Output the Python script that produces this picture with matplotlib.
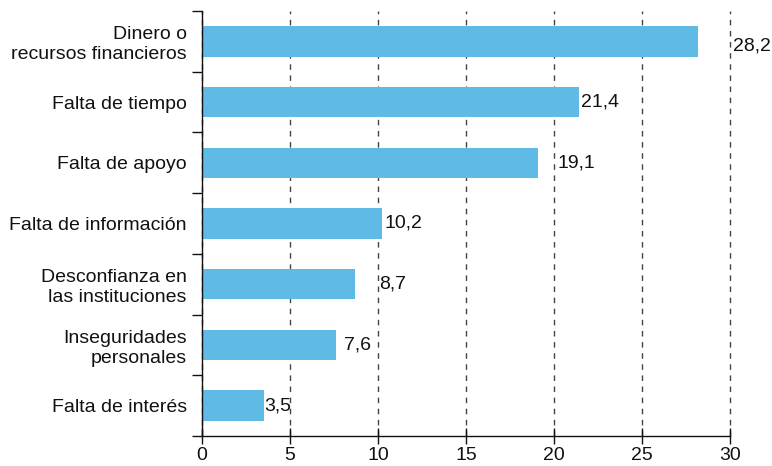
import matplotlib
matplotlib.use("Agg")
import matplotlib.pyplot as plt

plt.rcParams['font.family'] = ['Liberation Sans', 'DejaVu Sans']

categories = ["Dinero o\nrecursos financieros", "Falta de tiempo", "Falta de apoyo",
              "Falta de información", "Desconfianza en\nlas instituciones",
              "Inseguridades\npersonales", "Falta de interés"]
values = [28.2, 21.4, 19.1, 10.2, 8.7, 7.6, 3.5]
# label nudges (points) to the right of each bar end, as in the original
label_nudge = [25, 2, 14, 2, 17, 6, 0.5]
label_drop = [-3, 0, 0, 0, 0, 0, 0]

bar_color = "#5FBAE6"
fs = 14

fig = plt.figure(figsize=(7.72, 4.66), dpi=100)
ax = fig.add_axes([0.2617, 0.0644, 0.9456 - 0.2617, 0.9764 - 0.0644])

n = len(categories)
ypos = list(range(n))
ax.barh(ypos, values, height=0.5, color=bar_color, zorder=2)
ax.set_ylim(n - 0.5, -0.5)
ax.set_xlim(0, 30)

for y, v, dx, dy in zip(ypos, values, label_nudge, label_drop):
    ax.annotate(f"{v:.1f}".replace(".", ","), (v, y), xytext=(dx, dy),
                textcoords="offset points", ha="left", va="center",
                fontsize=fs, color="#111111", zorder=3)

ax.set_xticks([0, 5, 10, 15, 20, 25, 30])
ax.xaxis.grid(True, linestyle=(0, (4, 4)), color="#444444", linewidth=1, zorder=1)
for gl in ax.get_xgridlines():
    gl.set_clip_on(False)
ax.set_axisbelow(True)

# category labels placed at centres, ticks at boundaries
ax.set_yticks(ypos)
ax.set_yticklabels(categories, fontsize=fs, color="#111111")
ax.tick_params(axis="y", which="major", length=0, pad=11)
ax.set_yticks([i - 0.5 for i in range(n + 1)], minor=True)
ax.tick_params(axis="y", which="minor", length=7, width=1, color="#111111")
ax.tick_params(axis="x", direction="inout", length=12, width=1, labelsize=fs,
               color="#111111", labelcolor="#111111", pad=2)

for s in ["top", "right"]:
    ax.spines[s].set_visible(False)
for s in ["left", "bottom"]:
    ax.spines[s].set_color("#111111")
    ax.spines[s].set_linewidth(1)

fig.savefig("out.png", dpi=100)
